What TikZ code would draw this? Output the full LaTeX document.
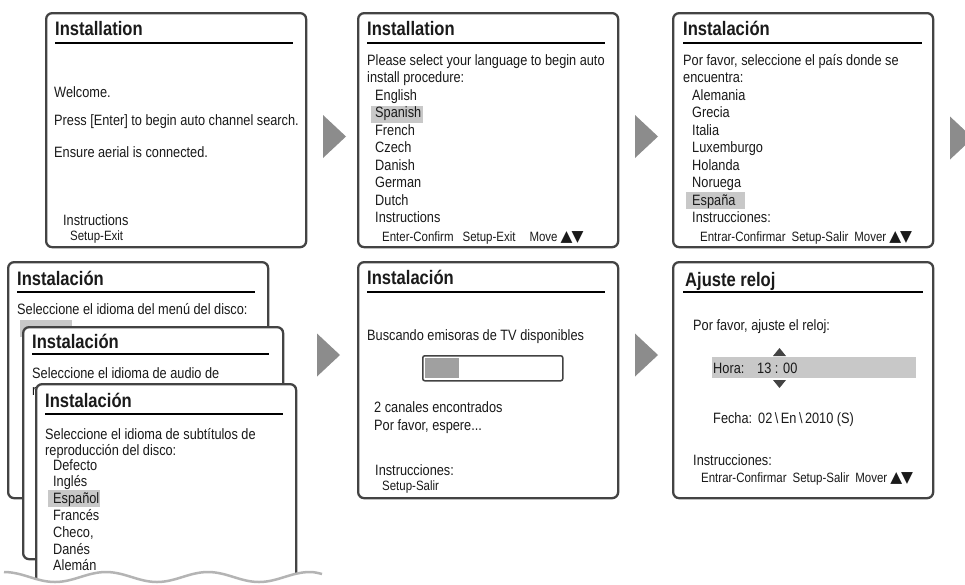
\documentclass[tikz,border=0pt]{standalone}
\usepackage{fontspec}
\setmainfont[FakeStretch=0.85]{Liberation Sans}
\newfontfamily\symfont{DejaVu Sans}
\newcommand\updown{{\symfont\fontsize{15.5}{15.5}\selectfont ▲\kern-1pt▼}}
\usepackage{tikz}
\usetikzlibrary{positioning}
\definecolor{FrameGray}{HTML}{434343}
\definecolor{ScreenInk}{HTML}{1A1A1A}
\definecolor{StepGray}{HTML}{8C8C8C}
\definecolor{SelGray}{HTML}{C8C8C8}
\definecolor{BarGray}{HTML}{A0A0A0}
\definecolor{WaveGray}{HTML}{B4B4B4}

\begin{document}
\begin{tikzpicture}[
  x=1pt, y=-1pt,
  % screen frame
  screen/.style={draw=FrameGray, line width=2.3pt, rounded corners=6pt,
                 fill=white, anchor=north west, inner sep=0pt,
                 minimum width=260pt, minimum height=234pt},
  % screen title
  ttl/.style={anchor=base west, inner sep=0pt, text=ScreenInk,
              font=\fontsize{19.5}{20}\selectfont\bfseries},
  % body line
  txt/.style={anchor=base west, inner sep=0pt, text=ScreenInk,
              font=\fontsize{15}{17.5}\selectfont},
  % instruction line
  foot/.style={anchor=base west, inner sep=0pt, text=ScreenInk,
               font=\fontsize{13.5}{15}\selectfont},
  rulebar/.style={black, line width=2pt},
  sel/.style={fill=SelGray},
  nextmark/.style={fill=StepGray},
  spinmark/.style={fill=FrameGray},
  wave/.style={draw=WaveGray, line width=2.5pt},
]
\useasboundingbox (0,0) rectangle (965,584);
\clip (0,0) rectangle (965,584);

% ── Column x-positions (left edge of each screen) ────────────────────────────
\def\xA{45}
\def\xB{357}
\def\xC{672}
% ── Row y-positions (top edge of each screen) ────────────────────────────────
\def\yT{12}
\def\yU{261}

%% ── Screen 1: welcome ─────────────────────────────────────────────────────
\node[screen] (welc) at (\xA,\yT) {};
\node[ttl] (welcT) at (55,35) {Installation};
\draw[rulebar] (55,43) -- (293,43);
\node[txt] (welcA) at (54,97) {Welcome.};
\node[txt] (welcB) at (54,125) {Press [Enter] to begin auto channel search.};
\node[txt] (welcC) at (54,157) {Ensure aerial is connected.};
\node[txt] (welcI) at (63,225) {Instructions};
\node[foot] (welcF) at (70,240) {Setup-Exit};

%% ── Screen 2: language ────────────────────────────────────────────────────
\node[screen] (lang) at (\xB,\yT) {};
\node[ttl] (langT) at (367,35) {Installation};
\draw[rulebar] (367,43) -- (605,43);
\node[txt] (langA) at (367,65) {Please select your language to begin auto};
\node[txt] (langB) at (367,82) {install procedure:};
\fill[sel] (371,106) rectangle (423,123);
\foreach \w [count=\i from 0] in {English,Spanish,French,Czech,Danish,German,Dutch,Instructions}
  \node[txt] (lang\i) at (375,100+17.5*\i) {\w};
\node[foot] (langF) at (382,241)
  {Enter-Confirm\hspace{9pt}Setup-Exit\hspace{14pt}Move\hspace{3pt}\updown};

%% ── Screen 3: country ─────────────────────────────────────────────────────
\node[screen] (pais) at (\xC,\yT) {};
\node[ttl] (paisT) at (683,35) {Instalación};
\draw[rulebar] (683,43) -- (922,43);
\node[txt] (paisA) at (683,65) {Por favor, seleccione el país donde se};
\node[txt] (paisB) at (683,82) {encuentra:};
\fill[sel] (686,192) rectangle (745,209);
\foreach \w [count=\i from 0] in {Alemania,Grecia,Italia,Luxemburgo,Holanda,Noruega,España,Instrucciones:}
  \node[txt] (pais\i) at (692,100+17.5*\i) {\w};
\node[foot] (paisF) at (700,241)
  {Entrar-Confirmar\hspace{6pt}Setup-Salir\hspace{6pt}Mover\hspace{3pt}\updown};

%% ── Screens 4: disc menu / audio / subtitles (stacked) ────────────────────
\node[screen, minimum height=236pt] (menu) at (7,\yU) {};
\node[ttl] (menuT) at (17,285) {Instalación};
\draw[rulebar] (17,292) -- (255,292);
\node[txt] (menuA) at (17,314) {Seleccione el idioma del menú del disco:};
\fill[sel] (20,320) rectangle (72,337);

\node[screen, minimum height=232pt] (audio) at (22,326) {};
\node[ttl] (audioT) at (32,348) {Instalación};
\draw[rulebar] (32,354) -- (269,354);
\node[txt] (audioA) at (32,378) {Seleccione el idioma de audio de};
\begin{scope}
  \clip (30,380) rectangle (36,400);
  \node[txt] (audioB) at (32,395) {reproducción del disco:};
\end{scope}

\node[screen, minimum height=240pt] (subt) at (35,383) {};
\node[ttl] (subtT) at (45,407) {Instalación};
\draw[rulebar] (45,414) -- (283,414);
\node[txt] (subtA) at (45,439) {Seleccione el idioma de subtítulos de};
\node[txt] (subtB) at (45,455) {reproducción del disco:};
\fill[sel] (48,490) rectangle (100,507);
\foreach \w [count=\i from 0] in {Defecto,Inglés,Español,Francés,{Checo,},Danés,Alemán}
  \node[txt] (subt\i) at (53,470+16.8*\i) {\w};

% torn edge
\def\tear{(4,572) cos (29.5,577) sin (55,582) cos (80.5,577) sin (106,572)
  cos (131.5,577) sin (157,582) cos (182.5,577) sin (208,572)
  cos (233.5,577) sin (259,582) cos (284.5,577) sin (310,572) cos (322,574)}
\fill[white] \tear -- (322,600) -- (0,600) -- (0,572) -- cycle;
\draw[wave] \tear;

%% ── Screen 5: channel search ──────────────────────────────────────────────
\node[screen, minimum height=236pt] (scan) at (\xB,\yU) {};
\node[ttl] (scanT) at (367,284) {Instalación};
\draw[rulebar] (367,292) -- (605,292);
\node[txt] (scanA) at (367,340) {Buscando emisoras de TV disponibles};
\node[draw=FrameGray, line width=1.5pt, rounded corners=2pt, anchor=north west,
      inner sep=0pt, minimum width=140pt, minimum height=25pt] (bar) at (422,355) {};
\fill[BarGray] (424.5,358) rectangle (459,377.5);
\node[txt] (scanB) at (374,412) {2 canales encontrados};
\node[txt] (scanC) at (374,430) {Por favor, espere...};
\node[txt] (scanI) at (375,475) {Instrucciones:};
\node[foot] (scanF) at (382,490) {Setup-Salir};

%% ── Screen 6: clock ───────────────────────────────────────────────────────
\node[screen, minimum height=236pt] (clk) at (\xC,\yU) {};
\node[ttl] (clkT) at (685,286) {Ajuste reloj};
\draw[rulebar] (683,292) -- (923,292);
\node[txt] (clkA) at (693,330) {Por favor, ajuste el reloj:};
\fill[sel] (712,357) rectangle (916,378);
\fill[spinmark] (773,356) -- (786,356) -- (779.5,348) -- cycle;
\fill[spinmark] (773,380) -- (786,380) -- (779.5,388) -- cycle;
\node[txt] (clkH) at (713,373) {Hora:};
\node[txt] (clkHv) at (757,373) {13 : 00};
\node[txt] (clkD) at (713,423) {Fecha:};
\node[txt] (clkDv) at (758,423) {02\,\textbackslash\,En\,\textbackslash\,2010 (S)};
\node[txt] (clkI) at (693,465) {Instrucciones:};
\node[foot] (clkF) at (701,482)
  {Entrar-Confirmar\hspace{6pt}Setup-Salir\hspace{6pt}Mover\hspace{3pt}\updown};

%% ── Step arrows ───────────────────────────────────────────────────────────
\foreach \x/\y in {323/136.5,635/136.5,950/138,317/355,635/355}
  \fill[nextmark] (\x,\y-21.5) -- (\x+23,\y) -- (\x,\y+21.5) -- cycle;

\end{tikzpicture}
\end{document}
